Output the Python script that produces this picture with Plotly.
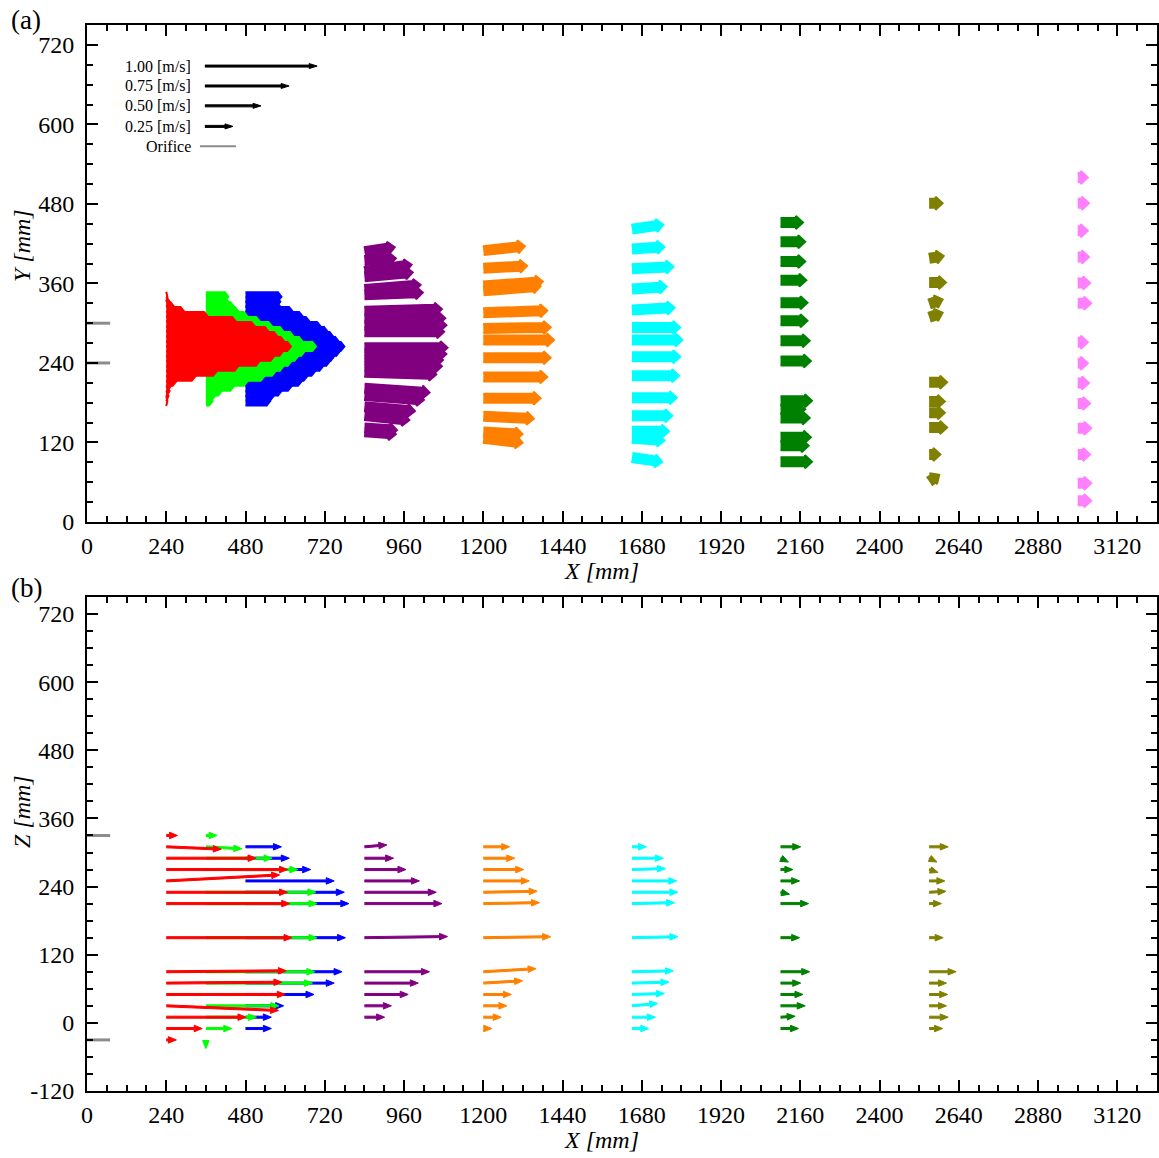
import math
import plotly.graph_objects as go

# ---------------------------------------------------------------------------
# Figure geometry
# ---------------------------------------------------------------------------
W, H = 1159, 1158
M_L, M_R, M_T, M_B = 87, 2, 25, 67
PLOT_W = W - M_L - M_R
PLOT_H = H - M_T - M_B

X_RANGE = [0, 3240]
Y_RANGE_A = [0, 750]
Z_RANGE_B = [-120, 750]
Y_DOMAIN_A = [1 - (522 - M_T) / PLOT_H, 1.0]
Y_DOMAIN_B = [0.0, 1 - (597 - M_T) / PLOT_H]

VEC_SCALE = 340.0  # plot mm per 1 m/s of velocity

FONT = "Liberation Serif"

RED, GREEN, BLUE = "#ff0000", "#00ff00", "#0000ff"
PURPLE, ORANGE, CYAN = "#800080", "#ff8000", "#00ffff"
DKGREEN, OLIVE, PINK = "#008000", "#808000", "#ff80ff"
ORIFICE_GREY = "#8c8c8c"

# ---------------------------------------------------------------------------
# (a) X-Y plane: velocity vectors (u, v) [m/s] at measurement stations X [mm]
# ---------------------------------------------------------------------------
Y_DENSE = [182.5, 190.0, 197.5, 205.0, 212.5, 220.0, 227.5, 235.0, 242.5, 250.0, 257.5,
           265.0, 272.5, 280.0, 287.5, 295.0, 302.5, 310.0, 317.5, 325.0, 332.5, 340.0]

XY_240_Y = Y_DENSE
XY_240_U = [0.01, 0.02, 0.03, 0.04, 0.09, 0.26, 0.45, 0.64, 0.83, 0.96, 1.04,
            1.11, 1.05, 0.99, 0.91, 0.79, 0.62, 0.37, 0.16, 0.07, 0.03, 0.01]

XY_360_Y = Y_DENSE
XY_360_U = [0.06, 0.08, 0.14, 0.25, 0.37, 0.52, 0.62, 0.69, 0.76, 0.82, 0.88,
            0.98, 0.86, 0.78, 0.69, 0.59, 0.48, 0.37, 0.29, 0.25, 0.20, 0.20]

XY_480_Y = Y_DENSE
XY_480_U = [0.22, 0.25, 0.32, 0.41, 0.50, 0.55, 0.62, 0.69, 0.75, 0.79, 0.84,
            0.88, 0.83, 0.78, 0.73, 0.67, 0.57, 0.51, 0.42, 0.31, 0.31, 0.32]

XY_840_Y = [408, 394.5, 378, 370, 351, 343, 318, 307.5, 297, 287, 263,
            253.5, 244.5, 235, 226, 202, 191, 174, 160.5, 142, 136]
XY_840_U = [0.27, 0.28, 0.42, 0.43, 0.50, 0.52, 0.69, 0.72, 0.73, 0.71, 0.74,
            0.73, 0.70, 0.69, 0.64, 0.58, 0.53, 0.45, 0.40, 0.29, 0.28]
XY_840_V = [0.02, 0.01, 0.03, 0.02, 0.02, 0.01, 0.01, 0.0, 0.0, 0.0, 0.0,
            0.0, 0.0, 0.0, -0.01, -0.02, -0.02, -0.02, -0.02, -0.01, -0.01]

XY_1200_Y = [409.5, 383, 356, 349, 315.7, 292, 274.7, 248, 219, 186.7, 159.5, 135.8, 126.3]
XY_1200_U = [0.37, 0.39, 0.53, 0.51, 0.57, 0.60, 0.63, 0.60, 0.57, 0.51, 0.45, 0.35, 0.35]
XY_1200_V = [0.02, 0.01, 0.02, 0.02, 0.01, 0.005, 0.0, 0.0, 0.0, 0.0, -0.01, -0.01, -0.02]

XY_1650_Y = [442, 412, 382, 351.7, 320, 293.6, 274.7, 249.5, 220.7, 187.4, 160.3, 136.9, 126.3, 97.4]
XY_1650_U = [0.28, 0.29, 0.37, 0.31, 0.38, 0.43, 0.45, 0.43, 0.42, 0.40, 0.36, 0.33, 0.29, 0.27]
XY_1650_V = [0.02, 0.01, 0.01, 0.01, 0.01, 0.0, 0.0, 0.0, 0.0, 0.0, 0.0, 0.0, -0.01, -0.02]

XY_2100_Y = [452, 423, 393, 365, 331, 303.7, 273.4, 243, 183, 170, 157, 128, 115, 91]
XY_2100_U = [0.20, 0.22, 0.22, 0.23, 0.24, 0.24, 0.26, 0.27, 0.28, 0.22, 0.26, 0.27, 0.25, 0.28]

XY_2550_Y = [481, 398, 361.5, 329, 309, 211, 182, 165, 142.6, 102, 61]
XY_2550_U = [0.12, 0.13, 0.15, 0.12, 0.12, 0.16, 0.14, 0.14, 0.16, 0.10, 0.09]
XY_2550_V = [0.0, 0.01, 0.0, 0.02, 0.02, 0.0, 0.0, 0.0, 0.0, 0.0, 0.03]

XY_3000_Y = [520, 481, 439.5, 400, 360.7, 330, 271.4, 239.5, 209.8, 179, 141.4, 102, 58.4, 32]
XY_3000_U = [0.09, 0.10, 0.09, 0.10, 0.11, 0.12, 0.09, 0.09, 0.10, 0.11, 0.12, 0.11, 0.12, 0.12]

# ---------------------------------------------------------------------------
# (b) X-Z plane: velocity vectors (u, w) [m/s]
# ---------------------------------------------------------------------------
Z_FULL = [330, 310, 290, 270, 250, 230, 210, 150, 90, 70, 50, 30, 10, -10, -30]
Z_MID = [310, 290, 270, 250, 230, 210, 150, 90, 70, 50, 30, 10, -10]

XZ_240_Z = Z_FULL
XZ_240_U = [0.10, 0.49, 0.80, 1.08, 1.01, 1.08, 1.10, 1.12, 1.07, 1.03, 1.06, 1.00, 0.71, 0.32, 0.09]
XZ_240_W = [0.0, -0.012, 0.0, 0.0, 0.031, 0.0, 0.0, 0.0, 0.005, 0.005, 0.0, -0.024, 0.0, 0.0, 0.0]

XZ_360_Z = [330, 310, 290, 270, 230, 210, 150, 90, 70, 30, 10, -10, -30]
XZ_360_U = [0.10, 0.32, 0.59, 0.82, 0.98, 0.99, 0.99, 0.97, 0.95, 0.65, 0.45, 0.23, 0.0]
XZ_360_W = [0.0, -0.01, 0.0, 0.0, 0.0, 0.0, 0.0, 0.0, 0.0, 0.0, 0.0, 0.0, -0.045]

XZ_480_Z = Z_MID
XZ_480_U = [0.32, 0.39, 0.58, 0.79, 0.88, 0.92, 0.89, 0.86, 0.79, 0.61, 0.34, 0.23, 0.23]

XZ_840_Z = [310, 290, 270, 250, 230, 210, 150, 90, 70, 50, 30, 10]
XZ_840_U = [0.20, 0.26, 0.37, 0.49, 0.64, 0.69, 0.74, 0.58, 0.48, 0.39, 0.24, 0.18]
XZ_840_W = [0.01, 0.0, 0.0, 0.0, 0.0, 0.0, 0.006, 0.0, 0.0, 0.0, 0.0, 0.0]

XZ_1200_Z = Z_MID
XZ_1200_U = [0.235, 0.28, 0.36, 0.41, 0.48, 0.50, 0.60, 0.47, 0.35, 0.25, 0.21, 0.16, 0.075]
XZ_1200_W = [0.0, 0.0, 0.0, 0.0, 0.005, 0.005, 0.005, 0.016, 0.012, 0.0, 0.0, 0.0, 0.0]

XZ_1650_Z = Z_MID
XZ_1650_U = [0.13, 0.28, 0.30, 0.40, 0.41, 0.38, 0.41, 0.37, 0.33, 0.29, 0.23, 0.21, 0.15]
XZ_1650_W = [0.0, 0.0, 0.005, 0.0, 0.0, 0.005, 0.005, 0.005, 0.005, 0.005, 0.012, 0.0, 0.0]

XZ_2100_Z = Z_MID
XZ_2100_U = [0.18, 0.07, 0.11, 0.17, 0.08, 0.25, 0.17, 0.26, 0.18, 0.20, 0.22, 0.13, 0.16]
XZ_2100_W = [0.0, -0.02, 0.0, 0.0, -0.01, 0.0, 0.0, 0.0, 0.0, 0.0, 0.0, 0.005, 0.0]

XZ_2550_Z = Z_MID
XZ_2550_U = [0.17, 0.07, 0.08, 0.14, 0.15, 0.11, 0.125, 0.24, 0.155, 0.165, 0.155, 0.17, 0.12]
XZ_2550_W = [0.0, -0.02, -0.015, 0.0, 0.005, 0.0, 0.0, 0.0, 0.0, 0.0, 0.0, 0.0, 0.0]

# Reference-vector key and orifice edges
KEY_SPEEDS = [1.00, 0.75, 0.50, 0.25]
KEY_LABELS = ["1.00 [m/s]", "0.75 [m/s]", "0.50 [m/s]", "0.25 [m/s]"]
KEY_Y = [688, 658, 628, 597]
ORIFICE_KEY_Y = 567
ORIFICE_Y = [240, 300]
ORIFICE_Z = [-30, 330]

# Tick labels
X_TICKS = [0, 240, 480, 720, 960, 1200, 1440, 1680, 1920, 2160, 2400, 2640, 2880, 3120]
Y_TICKS_A = [0, 120, 240, 360, 480, 600, 720]
Z_TICKS_B = [-120, 0, 120, 240, 360, 480, 600, 720]

# ---------------------------------------------------------------------------
# pixel <-> data conversion factors (px per mm)
# ---------------------------------------------------------------------------
KX = PLOT_W / (X_RANGE[1] - X_RANGE[0])
KY_A = (Y_DOMAIN_A[1] - Y_DOMAIN_A[0]) * PLOT_H / (Y_RANGE_A[1] - Y_RANGE_A[0])
KY_B = (Y_DOMAIN_B[1] - Y_DOMAIN_B[0]) * PLOT_H / (Z_RANGE_B[1] - Z_RANGE_B[0])


def arrow_outline(x0, y0, u, v, ky, shaft_w, head_w, head_l):
    """Closed outline of one vector arrow, built in screen pixels and mapped to data."""
    dx = u * VEC_SCALE * KX
    dy = v * VEC_SCALE * ky
    length = math.hypot(dx, dy)
    if length == 0:
        return [], []
    ex, ey = dx / length, dy / length
    nx, ny = -ey, ex
    hs, hh = shaft_w / 2.0, head_w / 2.0
    if length > head_l:
        nk = length - head_l
        pts = [(nx * hs, ny * hs),
               (ex * nk + nx * hs, ey * nk + ny * hs),
               (ex * nk + nx * hh, ey * nk + ny * hh),
               (dx, dy),
               (ex * nk - nx * hh, ey * nk - ny * hh),
               (ex * nk - nx * hs, ey * nk - ny * hs),
               (-nx * hs, -ny * hs)]
    else:
        pts = [(nx * hh, ny * hh), (dx, dy), (-nx * hh, -ny * hh)]
    xs = [x0 + px / KX for px, _ in pts]
    ys = [y0 + py / ky for _, py in pts]
    return xs, ys


def vector_trace(x0, ys, us, vs, color, ky, dims, xa, ya, edge=1):
    px, py = [], []
    if vs is None:
        vs = [0.0] * len(us)
    for y0, u, v in zip(ys, us, vs):
        ax, ay = arrow_outline(x0, y0, u, v, ky, *dims)
        if ax:
            px += ax + [None]
            py += ay + [None]
    return go.Scatter(x=px, y=py, mode="lines", fill="toself", fillcolor=color,
                      line=dict(color=color, width=edge), xaxis=xa, yaxis=ya,
                      hoverinfo="skip", showlegend=False)


THICK = (9, 13, 7)      # shaft width, head width, head length [px] for X-Y plane
DENSE = (9, 10, 4)      # closely packed near-orifice stations
THIN = (2, 6.5, 8)      # for X-Z plane
KEY = (2, 5, 8)         # reference arrows

fig = go.Figure()

# (a) drawn far-field first so the jet core sits on top
xy_sets = [
    (3000, XY_3000_Y, XY_3000_U, None, PINK, THICK),
    (2550, XY_2550_Y, XY_2550_U, XY_2550_V, OLIVE, THICK),
    (2100, XY_2100_Y, XY_2100_U, None, DKGREEN, THICK),
    (1650, XY_1650_Y, XY_1650_U, XY_1650_V, CYAN, THICK),
    (1200, XY_1200_Y, XY_1200_U, XY_1200_V, ORANGE, THICK),
    (840, XY_840_Y, XY_840_U, XY_840_V, PURPLE, THICK),
    (480, XY_480_Y, XY_480_U, None, BLUE, DENSE),
    (360, XY_360_Y, XY_360_U, None, GREEN, DENSE),
    (240, XY_240_Y, XY_240_U, None, RED, DENSE),
]
for x0, ys, us, vs, col, dims in xy_sets:
    fig.add_trace(vector_trace(x0, ys, us, vs, col, KY_A, dims, "x", "y", edge=2))

xz_sets = [
    (2550, XZ_2550_Z, XZ_2550_U, XZ_2550_W, OLIVE),
    (2100, XZ_2100_Z, XZ_2100_U, XZ_2100_W, DKGREEN),
    (1650, XZ_1650_Z, XZ_1650_U, XZ_1650_W, CYAN),
    (1200, XZ_1200_Z, XZ_1200_U, XZ_1200_W, ORANGE),
    (840, XZ_840_Z, XZ_840_U, XZ_840_W, PURPLE),
    (480, XZ_480_Z, XZ_480_U, None, BLUE),
    (360, XZ_360_Z, XZ_360_U, XZ_360_W, GREEN),
    (240, XZ_240_Z, XZ_240_U, XZ_240_W, RED),
]
for x0, zs, us, ws, col in xz_sets:
    fig.add_trace(vector_trace(x0, zs, us, ws, col, KY_B, THIN, "x2", "y2"))

# reference vectors
KEY_X0 = 357
fig.add_trace(vector_trace(KEY_X0, KEY_Y, KEY_SPEEDS, None, "black", KY_A, KEY, "x", "y"))
fig.add_trace(go.Scatter(x=[342, 451], y=[ORIFICE_KEY_Y, ORIFICE_KEY_Y], mode="lines",
                         line=dict(color=ORIFICE_GREY, width=2), xaxis="x", yaxis="y",
                         hoverinfo="skip", showlegend=False))

# orifice edges marked on the left axes
ox, oy = [], []
for yv in ORIFICE_Y:
    ox += [0, 70, None]
    oy += [yv, yv, None]
fig.add_trace(go.Scatter(x=ox, y=oy, mode="lines", line=dict(color=ORIFICE_GREY, width=3),
                         xaxis="x", yaxis="y", hoverinfo="skip", showlegend=False))
ox, oz = [], []
for zv in ORIFICE_Z:
    ox += [0, 70, None]
    oz += [zv, zv, None]
fig.add_trace(go.Scatter(x=ox, y=oz, mode="lines", line=dict(color=ORIFICE_GREY, width=3),
                         xaxis="x2", yaxis="y2", hoverinfo="skip", showlegend=False))

annotations = []
for lab, yk in zip(KEY_LABELS, KEY_Y):
    annotations.append(dict(x=320, y=yk, xref="x", yref="y", text=lab, showarrow=False,
                            xanchor="right", yanchor="middle",
                            font=dict(family=FONT, size=16, color="black")))
annotations.append(dict(x=320, y=ORIFICE_KEY_Y, xref="x", yref="y", text="Orifice",
                        showarrow=False, xanchor="right", yanchor="middle",
                        font=dict(family=FONT, size=16, color="black")))


def px_x(p):
    return (p - M_L) / PLOT_W


def px_y(p):
    return 1 - (p - M_T) / PLOT_H


title_font = dict(family=FONT, size=24, color="black")
annotations += [
    dict(x=px_x(601), y=px_y(571), xref="paper", yref="paper", text="<i>X [mm]</i>",
         showarrow=False, xanchor="center", yanchor="middle", font=title_font),
    dict(x=px_x(601), y=px_y(1140), xref="paper", yref="paper", text="<i>X [mm]</i>",
         showarrow=False, xanchor="center", yanchor="middle", font=title_font),
    dict(x=px_x(22), y=px_y(246), xref="paper", yref="paper", text="<i>Y [mm]</i>",
         showarrow=False, textangle=-90, xanchor="center", yanchor="middle", font=title_font),
    dict(x=px_x(22), y=px_y(812), xref="paper", yref="paper", text="<i>Z [mm]</i>",
         showarrow=False, textangle=-90, xanchor="center", yanchor="middle", font=title_font),
    dict(x=px_x(26), y=px_y(20), xref="paper", yref="paper", text="(a)",
         showarrow=False, xanchor="center", yanchor="middle",
         font=dict(family=FONT, size=27, color="black")),
    dict(x=px_x(26), y=px_y(588), xref="paper", yref="paper", text="(b)",
         showarrow=False, xanchor="center", yanchor="middle",
         font=dict(family=FONT, size=27, color="black")),
]

axis_common = dict(
    showline=True, linecolor="black", linewidth=2, mirror="allticks",
    ticks="inside", ticklen=11, tickwidth=2, tickcolor="black",
    showgrid=False, zeroline=False, automargin=False,
    tickfont=dict(family=FONT, size=24, color="black"),
)


def xaxis_cfg(anchor):
    return dict(axis_common, range=X_RANGE, domain=[0, 1], anchor=anchor,
                tickmode="array", tickvals=X_TICKS, ticktext=[str(t) for t in X_TICKS],
                ticklabelstandoff=1,
                minor=dict(ticks="inside", ticklen=6, tickwidth=2, tickcolor="black",
                           dtick=60, tick0=0, showgrid=False))


def yaxis_cfg(anchor, rng, dom, ticks):
    return dict(axis_common, range=rng, domain=dom, anchor=anchor,
                tickmode="array", tickvals=ticks, ticktext=[str(t) for t in ticks],
                ticklabelstandoff=6,
                minor=dict(ticks="inside", ticklen=6, tickwidth=2, tickcolor="black",
                           dtick=30, tick0=0, showgrid=False))


fig.update_layout(
    width=W, height=H,
    margin=dict(l=M_L, r=M_R, t=M_T, b=M_B, autoexpand=False),
    paper_bgcolor="white", plot_bgcolor="white",
    xaxis=xaxis_cfg("y"),
    yaxis=yaxis_cfg("x", Y_RANGE_A, Y_DOMAIN_A, Y_TICKS_A),
    xaxis2=xaxis_cfg("y2"),
    yaxis2=yaxis_cfg("x2", Z_RANGE_B, Y_DOMAIN_B, Z_TICKS_B),
    annotations=annotations,
    showlegend=False,
)

fig.write_html("out.html")
